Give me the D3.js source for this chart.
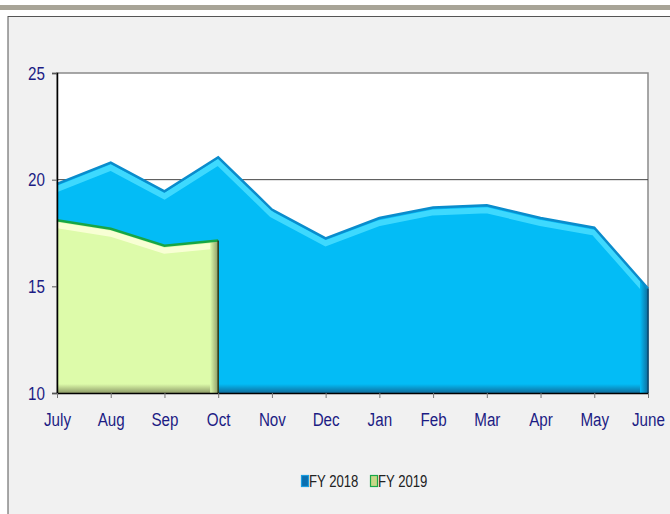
<!DOCTYPE html>
<html>
<head>
<meta charset="utf-8">
<script src="https://cdn.jsdelivr.net/npm/d3@7"></script>
<style>
  body { margin: 0; background: #ffffff; }
  svg { display: block; }
  text { font-family: "Liberation Sans", Arial, sans-serif; }
</style>
</head>
<body>
<div id="chart"></div>
<script>
  let width = 670, height = 514

  // data
  let months = ["July", "Aug", "Sep", "Oct", "Nov", "Dec", "Jan", "Feb", "Mar", "Apr", "May", "June"]
  let fy2018 = [19.8, 20.8, 19.45, 21.05, 18.6, 17.25, 18.2, 18.7, 18.8, 18.2, 17.75, 14.9]
  let fy2019 = [18.1, 17.7, 16.9, 17.15]
  let yTicks = [10, 15, 20, 25]
  let seriesNames = ["FY 2018", "FY 2019"]

  let margin = {left: 57, right: 22, top: 73, bottom: 121}
  let squeeze = 0.8   // narrow look of the labels

  let svg = d3.select("#chart").append("svg")
    .attr("width", width)
    .attr("height", height)

  // page decoration
  svg.append("rect").attr("x", 0).attr("y", 0).attr("width", width).attr("height", height).attr("fill", "#ffffff")
  svg.append("rect").attr("x", 0).attr("y", 5).attr("width", width).attr("height", 5).attr("fill", "#a8a497")
  svg.append("rect").attr("x", 8).attr("y", 16.5).attr("width", width).attr("height", height)
    .attr("fill", "#f1f1f1").attr("stroke", "#555").attr("stroke-width", 1)

  let x = d3.scalePoint().domain(months).range([margin.left, width - margin.right])
  let y = d3.scaleLinear().domain([10, 25]).range([height - margin.bottom, margin.top])

  let defs = svg.append("defs")

  // plot background
  svg.append("rect")
    .attr("x", x.range()[0]).attr("y", y(25))
    .attr("width", x.range()[1] - x.range()[0]).attr("height", y(10) - y(25))
    .attr("fill", "#ffffff").attr("stroke", "#8a8a8a").attr("stroke-width", 1.5)

  // gridline
  svg.append("g").selectAll("line").data([20]).enter().append("line")
    .attr("x1", x.range()[0]).attr("x2", x.range()[1])
    .attr("y1", d => y(d)).attr("y2", d => y(d))
    .attr("stroke", "#444").attr("stroke-width", 1)

  function drawArea(values, id, c) {
    let pts = values.map((v, i) => [x(months[i]), y(v)])
    let area = d3.area().x(d => d[0]).y0(y(10)).y1(d => d[1])
    let line = d3.line().x(d => d[0]).y(d => d[1])
    let g = svg.append("g")

    defs.append("clipPath").attr("id", "clip" + id).append("path").attr("d", area(pts))

    let lastX = pts[pts.length - 1][0]
    let firstX = pts[0][0]

    let bg = defs.append("linearGradient").attr("id", "bot" + id)
      .attr("x1", 0).attr("x2", 0).attr("y1", 0).attr("y2", 1)
    bg.append("stop").attr("offset", 0).attr("stop-color", c.fill)
    bg.append("stop").attr("offset", 1).attr("stop-color", c.dark)

    let rg = defs.append("linearGradient").attr("id", "right" + id)
      .attr("x1", 0).attr("x2", 1).attr("y1", 0).attr("y2", 0)
    rg.append("stop").attr("offset", 0).attr("stop-color", c.fill)
    rg.append("stop").attr("offset", 1).attr("stop-color", c.dark)

    g.append("path").attr("d", area(pts)).attr("fill", c.fill)

    let inner = g.append("g").attr("clip-path", "url(#clip" + id + ")")
    // light bevel under the top edge
    inner.append("path").attr("d", line(pts))
      .attr("transform", "translate(0,5)")
      .attr("fill", "none").attr("stroke", c.light).attr("stroke-width", 6).attr("opacity", 0.9)
    // darker band along the bottom
    inner.append("rect")
      .attr("x", firstX).attr("y", y(10) - 9)
      .attr("width", lastX - firstX).attr("height", 9)
      .attr("fill", "url(#bot" + id + ")")
    // darker band at right edge
    inner.append("rect")
      .attr("x", lastX - 8).attr("y", y(25))
      .attr("width", 8).attr("height", y(10) - y(25))
      .attr("fill", "url(#right" + id + ")")
    // top edge
    g.append("path").attr("d", line(pts))
      .attr("fill", "none").attr("stroke", c.edge).attr("stroke-width", 2.5)
    g.append("line")
      .attr("x1", lastX).attr("x2", lastX)
      .attr("y1", pts[pts.length - 1][1]).attr("y2", y(10))
      .attr("stroke", c.side).attr("stroke-width", 1.5)
  }

  drawArea(fy2018, "a", {fill: "#03bcf6", light: "#45dcff", dark: "#0f6d9c", edge: "#0a8ccc", side: "#084a70"})
  drawArea(fy2019, "b", {fill: "#ddfbaa", light: "#fbffd8", dark: "#8f9c68", edge: "#17a546", side: "#2a3a18"})

  // axes
  let yAxis = d3.axisLeft(y).tickValues(yTicks).tickSize(5).tickPadding(6)
  let yg = svg.append("g").attr("transform", "translate(" + x.range()[0] + ",0)").call(yAxis)
  yg.select(".domain").attr("stroke", "#000").attr("stroke-width", 1.5)
  yg.selectAll(".tick line").attr("stroke", "#555")
  yg.selectAll(".tick text")
    .attr("fill", "#1c1c84").attr("font-size", 19)
    .attr("x", -12 / squeeze)
    .attr("transform", "scale(" + squeeze + ",1)")

  let xAxis = d3.axisBottom(x).tickSize(5).tickPadding(15).tickSizeOuter(0)
  let xg = svg.append("g").attr("transform", "translate(0," + y(10) + ")").call(xAxis)
  xg.select(".domain").attr("stroke", "#000").attr("stroke-width", 1.5)
  xg.selectAll(".tick line").attr("stroke", "#777")
  xg.selectAll(".tick text")
    .attr("fill", "#1c1c84").attr("font-size", 19)
    .attr("transform", "scale(" + squeeze + ",1)")

  // legend
  let legendColors = [["#0a6fb0", "#1a9de0"], ["#c8d888", "#1aa84a"]]
  let lx = [301, 370]
  let legend = svg.append("g").selectAll("g").data(seriesNames).enter().append("g")
    .attr("transform", (d, i) => "translate(" + lx[i] + ",475)")
  legend.append("rect").attr("x", 0.5).attr("y", 0.5).attr("width", 7).attr("height", 11)
    .attr("fill", (d, i) => legendColors[i][0]).attr("stroke", (d, i) => legendColors[i][1]).attr("stroke-width", 1.2)
  legend.append("text").attr("x", 8 / 0.82).attr("y", 12)
    .attr("transform", "scale(0.82,1)")
    .attr("font-size", 16).attr("fill", "#222")
    .text(d => d)
</script>
</body>
</html>
